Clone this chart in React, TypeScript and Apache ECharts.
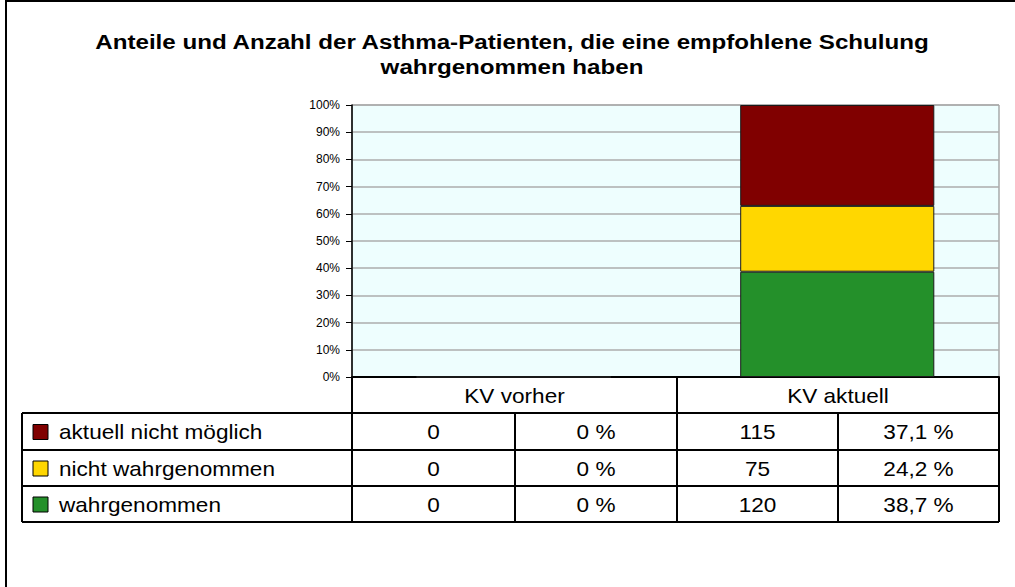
import React, { useEffect, useRef } from "react";
import * as echarts from "echarts";

const titleLines = [
  "Anteile und Anzahl der Asthma-Patienten, die eine empfohlene Schulung",
  "wahrgenommen haben",
];
const categories = ["KV vorher", "KV aktuell"];
const seriesNames = ["aktuell nicht möglich", "nicht wahrgenommen", "wahrgenommen"];
const seriesColors = ["#800000", "#FFD700", "#24902A"];
// counts per series, per category
const countsNichtMoeglich = [0, 115];
const countsNichtWahrgenommen = [0, 75];
const countsWahrgenommen = [0, 120];
const yTicks = [0, 10, 20, 30, 40, 50, 60, 70, 80, 90, 100];

const W = 1015;
const H = 587;

export default function App() {
  const ref = useRef<HTMLDivElement>(null);
  useEffect(() => {
    if (!ref.current) return;
    const chart = echarts.init(ref.current, null, { renderer: "svg" });
    const counts = [countsNichtMoeglich, countsNichtWahrgenommen, countsWahrgenommen];
    const totals = categories.map((_, i) => counts.reduce((s, c) => s + c[i], 0));
    const pct = counts.map((c) => c.map((v, i) => (totals[i] ? (v / totals[i]) * 100 : 0)));
    const fmtPct = (v: number) => (v === 0 ? "0 %" : v.toFixed(1).replace(".", ",") + " %");

    // layout of plot / table
    const plotL = 352, plotR = 999, plotT = 105, plotB = 377;
    const rowH = [377, 413, 450, 486, 522];
    const tableL = 22;
    const colX = [plotL, 515, 677, 838, plotR];
    const font = "Liberation Sans, Arial, sans-serif";
    const lineStyle = { stroke: "#000", lineWidth: 2 };
    const tFont = `20px ${font}`;
    const tScale = 1.13;

    const g: any[] = [];
    // outer frame
    g.push({ type: "line", shape: { x1: 6, y1: 0, x2: 6, y2: H }, style: { stroke: "#000", lineWidth: 2 } });
    g.push({ type: "line", shape: { x1: 5, y1: 1, x2: W, y2: 1 }, style: { stroke: "#000", lineWidth: 2 } });
    // title
    titleLines.forEach((t, i) => {
      g.push({
        type: "text",
        x: 512,
        y: 42 + i * 25,
        scaleX: 1.15,
        style: { text: t, font: `bold 21px ${font}`, fill: "#000", align: "center", verticalAlign: "middle" },
      });
    });
    // table horizontal lines
    g.push({ type: "line", shape: { x1: plotL, y1: rowH[0], x2: plotR, y2: rowH[0] }, style: lineStyle });
    for (let r = 1; r < rowH.length; r++) {
      g.push({ type: "line", shape: { x1: tableL, y1: rowH[r], x2: plotR, y2: rowH[r] }, style: lineStyle });
    }
    // vertical lines
    g.push({ type: "line", shape: { x1: tableL, y1: rowH[1], x2: tableL, y2: rowH[4] }, style: lineStyle });
    [plotL, colX[2], plotR].forEach((x) =>
      g.push({ type: "line", shape: { x1: x, y1: rowH[0], x2: x, y2: rowH[4] }, style: lineStyle })
    );
    [colX[1], colX[3]].forEach((x) =>
      g.push({ type: "line", shape: { x1: x, y1: rowH[1], x2: x, y2: rowH[4] }, style: lineStyle })
    );
    // header
    categories.forEach((c, i) => {
      g.push({
        type: "text",
        x: (colX[i * 2] + colX[i * 2 + 2]) / 2,
        y: (rowH[0] + rowH[1]) / 2 + 1,
        scaleX: tScale,
        style: { text: c, font: tFont, fill: "#000", align: "center", verticalAlign: "middle" },
      });
    });
    // rows
    seriesNames.forEach((name, s) => {
      const cy = (rowH[s + 1] + rowH[s + 2]) / 2 + 1;
      g.push({
        type: "rect",
        shape: { x: 33, y: cy - 8, width: 15, height: 15 },
        style: { fill: seriesColors[s], stroke: "#000", lineWidth: 1 },
      });
      g.push({
        type: "text",
        x: 59,
        y: cy,
        scaleX: tScale,
        style: { text: name, font: tFont, fill: "#000", align: "left", verticalAlign: "middle" },
      });
      categories.forEach((_, ci) => {
        const vals = [String(counts[s][ci]), fmtPct(pct[s][ci])];
        vals.forEach((v, k) => {
          const c0 = colX[ci * 2 + k];
          const c1 = colX[ci * 2 + k + 1];
          g.push({
            type: "text",
            x: (c0 + c1) / 2,
            y: cy,
            scaleX: tScale,
            style: { text: v, font: tFont, fill: "#000", align: "center", verticalAlign: "middle" },
          });
        });
      });
    });

    const option: any = {
      animation: false,
      backgroundColor: "#fff",
      grid: {
        left: plotL,
        right: W - plotR,
        top: plotT,
        bottom: H - plotB,
        show: true,
        backgroundColor: "#EEFEFE",
        borderColor: "#808080",
        borderWidth: 1,
      },
      xAxis: {
        type: "category",
        data: categories,
        axisLabel: { show: false },
        axisTick: { show: false },
        axisLine: { lineStyle: { color: "#000", width: 2 } },
      },
      yAxis: {
        type: "value",
        min: 0,
        max: 100,
        interval: 10,
        axisLabel: {
          formatter: (v: number) => (yTicks.includes(v) ? `${v}%` : ""),
          fontSize: 12,
          fontFamily: font,
          color: "#000",
          margin: 12,
        },
        axisLine: { show: true, lineStyle: { color: "#000", width: 1.5 } },
        axisTick: { show: true, length: 6, lineStyle: { color: "#000" } },
        splitLine: { lineStyle: { color: "#ADADAD", width: 1.5 } },
      },
      series: seriesNames
        .map((name, s) => ({
          name,
          type: "bar",
          stack: "total",
          barWidth: "60%",
          data: pct[s],
          itemStyle: { color: seriesColors[s], borderColor: "#1a1a1a", borderWidth: 1 },
        }))
        .reverse(),
      graphic: g,
    };
    chart.setOption(option);
    return () => chart.dispose();
  }, []);
  return <div ref={ref} style={{ position: "fixed", left: 0, top: 0, width: W, height: H }} />;
}
